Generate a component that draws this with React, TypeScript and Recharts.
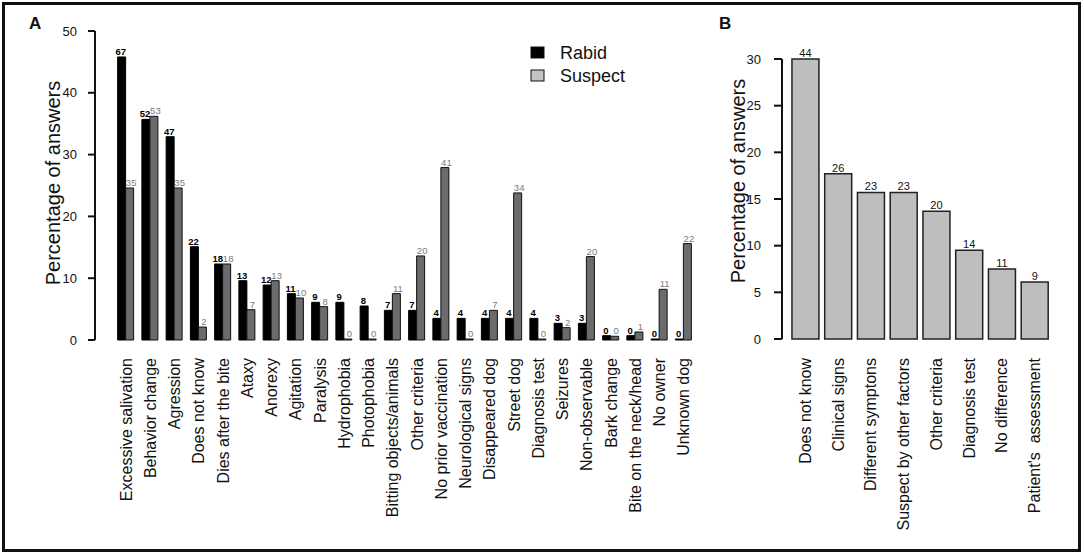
import React from 'react';
import { BarChart, Bar, XAxis, YAxis, LabelList } from 'recharts';

// Panel A: criteria used to tell a rabid dog vs a suspect dog
const criteriaA = [
    'Excessive salivation', 'Behavior change', 'Agression', 'Does not know', 'Dies after the bite',
    'Ataxy', 'Anorexy', 'Agitation', 'Paralysis', 'Hydrophobia', 'Photophobia',
    'Bitting objects/animals', 'Other criteria', 'No prior vaccination', 'Neurological signs',
    'Disappeared dog', 'Street dog', 'Diagnosis test', 'Seizures', 'Non-observable',
    'Bark change', 'Bite on the neck/head', 'No owner', 'Unknown dog',
];
const rabidPct = [45.8, 35.7, 32.9, 15.1, 12.3, 9.6, 8.9, 7.5, 6.1, 6.1, 5.5, 4.8, 4.8, 3.5, 3.5, 3.5, 3.5, 3.5, 2.7, 2.7, 0.7, 0.7, 0, 0];
const suspectPct = [24.6, 36.2, 24.6, 2.1, 12.3, 4.9, 9.6, 6.8, 5.4, 0, 0, 7.5, 13.6, 27.9, 0, 4.8, 23.8, 0, 2.0, 13.5, 0.6, 1.3, 8.2, 15.6];
const rabidN = [67, 52, 47, 22, 18, 13, 12, 11, 9, 9, 8, 7, 7, 4, 4, 4, 4, 4, 3, 3, 0, 0, 0, 0];
const suspectN = [35, 53, 35, 2, 18, 7, 13, 10, 8, 0, 0, 11, 20, 41, 0, 7, 34, 0, 2, 20, 0, 1, 11, 22];
const ticksA = [0, 10, 20, 30, 40, 50];

// Panel B
const criteriaB = [
    'Does not know', 'Clinical signs', 'Different symptons', 'Suspect by other factors',
    'Other criteria', 'Diagnosis test', 'No difference', "Patient's  assessment",
];
const pctB = [30.0, 17.7, 15.7, 15.7, 13.7, 9.5, 7.5, 6.1];
const nB = [44, 26, 23, 23, 20, 14, 11, 9];
const ticksB = [0, 5, 10, 15, 20, 25, 30];

const seriesNames = ['Rabid', 'Suspect'];

const FONT = '"Liberation Sans", Arial, Helvetica, sans-serif';

const dataA = criteriaA.map((c, i) => ({
    name: c, rabid: rabidPct[i], suspect: suspectPct[i], rabidN: rabidN[i], suspectN: suspectN[i],
}));
const dataB = criteriaB.map((c, i) => ({ name: c, pct: pctB[i], n: nB[i] }));

/* rotated category label, reads bottom to top, right-aligned under the axis */
const CatTick = ({ x, payload }: any) => (
    <text transform={`translate(${x},358) rotate(-90)`} textAnchor="end" dy="0.35em"
        fontSize={16} fill="#111" fontFamily={FONT} style={{ whiteSpace: 'pre' }}>
        {payload.value}
    </text>
);

/* count above a bar, small nudge so neighbours don't collide */
const countLabel = (fill: string, weight: number, size: number, shift: number) => (p: any) => {
    const { x, y, width, value } = p;
    return (
        <text x={Number(x) + Number(width) / 2 + shift} y={Number(y) - 2} textAnchor="middle"
            fill={fill} fontSize={size} fontWeight={weight} fontFamily={FONT}>
            {value}
        </text>
    );
};

export default function App() {
    return (
        <div style={{ position: 'absolute', left: 0, top: 0, width: 1084, height: 555, background: '#fff', fontFamily: FONT }}>
            <div style={{ position: 'absolute', left: 2, top: 2, width: 1079, height: 550, border: '3px solid #111', boxSizing: 'border-box' }} />

            <div style={{ position: 'absolute', left: 0, top: 0 }}>
                <BarChart width={730} height={555} data={dataA}
                    margin={{ top: 31, right: 34, left: 55, bottom: 15 }}
                    barCategoryGap="15%" barGap={0}>
                    <XAxis dataKey="name" interval={0} axisLine={false} tickLine={false}
                        height={200} padding={{ left: 19, right: 0 }} tick={<CatTick />} />
                    <YAxis width={40} domain={[0, 50]} ticks={ticksA} tickSize={7} tickMargin={11}
                        axisLine={{ stroke: '#111', strokeWidth: 2 }} tickLine={{ stroke: '#111', strokeWidth: 2 }}
                        tick={{ fill: '#111', fontSize: 13, fontFamily: FONT }} />
                    <Bar dataKey="rabid" fill="#000" stroke="#000" strokeWidth={1} minPointSize={1} isAnimationActive={false}>
                        <LabelList dataKey="rabidN" content={countLabel('#000', 700, 9.5, -0.8)} />
                    </Bar>
                    <Bar dataKey="suspect" fill="#6b6b6b" stroke="#111" strokeWidth={1} minPointSize={1} isAnimationActive={false}>
                        <LabelList dataKey="suspectN" content={countLabel('#7a7a7a', 400, 9.5, 1.5)} />
                    </Bar>
                </BarChart>
            </div>

            <div style={{ position: 'absolute', left: 730, top: 0 }}>
                <BarChart width={354} height={555} data={dataB}
                    margin={{ top: 59, right: 33, left: 12, bottom: 15 }}
                    barCategoryGap="9%">
                    <XAxis dataKey="name" interval={0} axisLine={false} tickLine={false}
                        height={201} padding={{ left: 7, right: 0 }} tick={<CatTick />} />
                    <YAxis width={40} domain={[0, 30]} ticks={ticksB} tickSize={8} tickMargin={13}
                        axisLine={{ stroke: '#111', strokeWidth: 2 }} tickLine={{ stroke: '#111', strokeWidth: 2 }}
                        tick={{ fill: '#111', fontSize: 13, fontFamily: FONT }} />
                    <Bar dataKey="pct" fill="#bebebe" stroke="#222" strokeWidth={1.5} isAnimationActive={false}>
                        <LabelList dataKey="n" content={countLabel('#111', 400, 11, 0)} />
                    </Bar>
                </BarChart>
            </div>

            {/* panel letters, axis titles and legend */}
            <svg width={1084} height={555} style={{ position: 'absolute', left: 0, top: 0, pointerEvents: 'none' }}
                fontFamily={FONT}>
                <text x={29} y={29} fontSize={17} fontWeight={700} fill="#111">A</text>
                <text x={719} y={29} fontSize={17} fontWeight={700} fill="#111">B</text>
                <text transform="translate(53,183) rotate(-90)" textAnchor="middle" dy="0.35em" fontSize={20} fill="#111">
                    Percentage of answers
                </text>
                <text transform="translate(738,181) rotate(-90)" textAnchor="middle" dy="0.35em" fontSize={20} fill="#111">
                    Percentage of answers
                </text>
                {seriesNames.map((s, i) => (
                    <g key={s}>
                        <rect x={531} y={47 + i * 23} width={13} height={11}
                            fill={i === 0 ? '#000' : '#c4c4c4'} stroke="#111" strokeWidth={1} />
                        <text x={560} y={53 + i * 23} dy="0.35em" fontSize={18} fill="#111">{s}</text>
                    </g>
                ))}
            </svg>
        </div>
    );
}
